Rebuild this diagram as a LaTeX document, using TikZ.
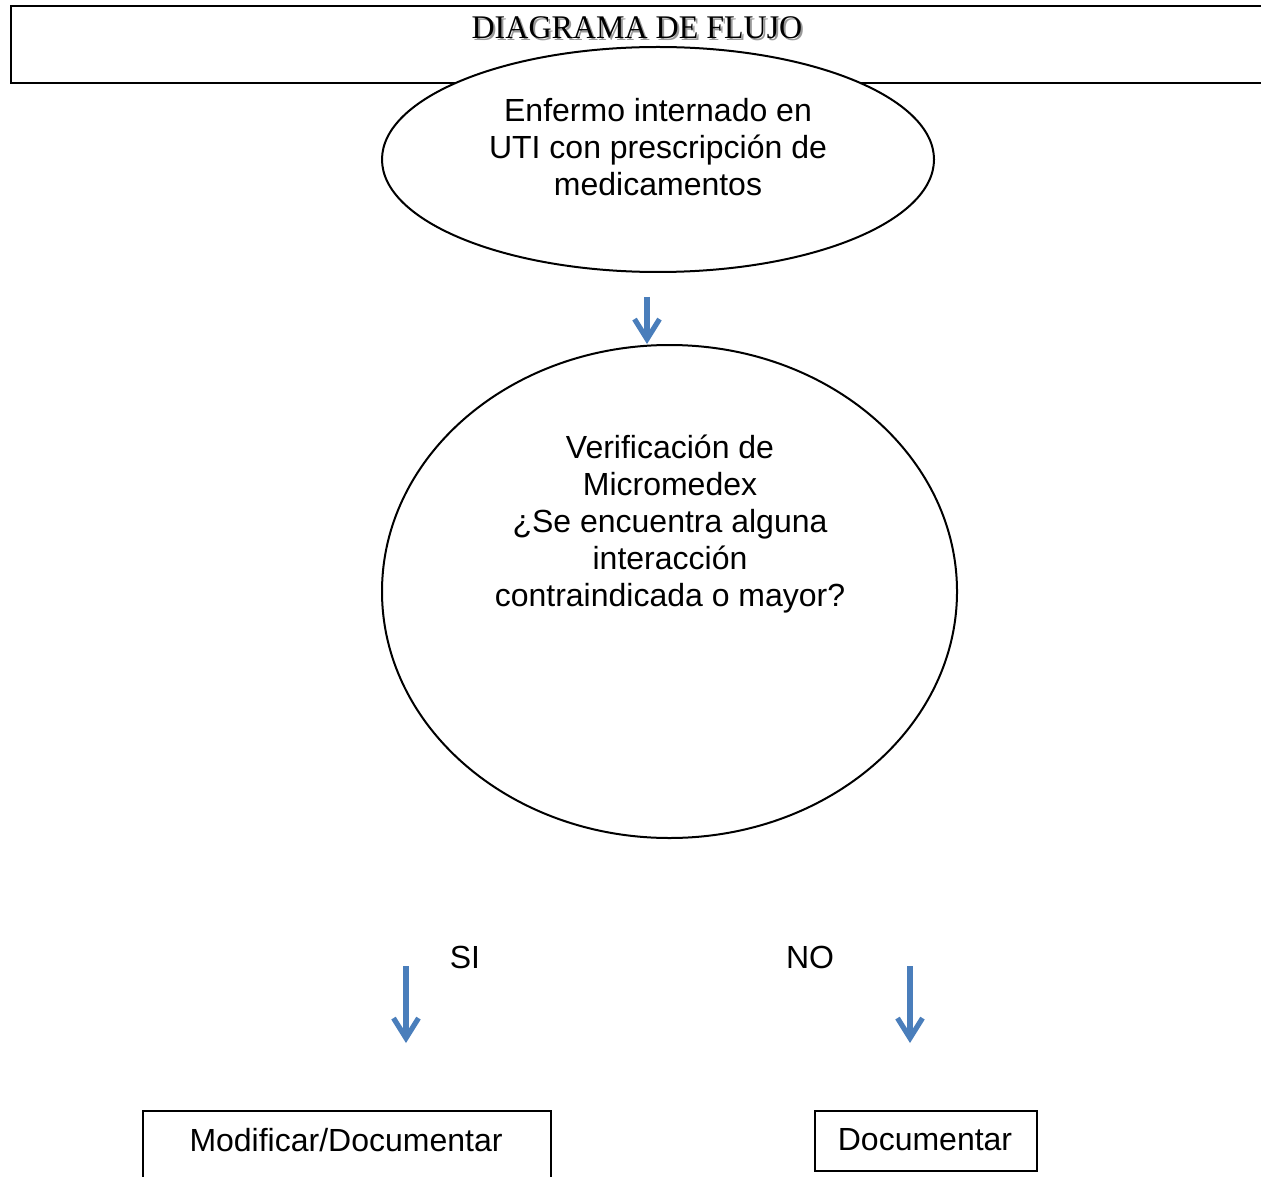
\documentclass[tikz,border=0pt]{standalone}
\usepackage{fontspec}
\setmainfont{Liberation Sans}
\newfontfamily\titlefont{Liberation Serif}
\usetikzlibrary{shapes.geometric,arrows.meta}
\definecolor{arrblue}{RGB}{74,126,187}
\tikzset{
  shape line/.style={draw=black,line width=1pt,fill=white},
  txt/.style={font=\fontsize{16}{18.5}\selectfont,align=center,inner sep=0pt},
  titletxt/.style={font=\titlefont\fontsize{16.5}{18}\selectfont,inner sep=0pt,xscale=0.97},
  bluearrow/.style={draw=arrblue,line width=2.6pt,-{Straight Barb[length=10pt,width=12.5pt,line join=miter]}},
}
\begin{document}
\begin{tikzpicture}[x=0.5pt,y=-0.5pt]
\useasboundingbox (0,0) rectangle (1261,1176);
% title box
\node[draw=black,line width=1pt,minimum width=1280*0.5pt,minimum height=77*0.5pt,anchor=north west,inner sep=0pt] (titlebox) at (10,5) {};
\node[titletxt,text=black!40] (titleshadow) at (639,30) {DIAGRAMA DE FLUJO};
\node[titletxt] (title) at (637,28) {DIAGRAMA DE FLUJO};
% ellipse 1
\node[ellipse,shape line,minimum width=552*0.5pt,minimum height=225*0.5pt,inner sep=0pt] (e1) at (658,159.5) {};
\node[txt] (t1) at (658,147) {Enfermo internado en\\UTI con prescripción de\\medicamentos};
% ellipse 2
\node[ellipse,shape line,minimum width=575*0.5pt,minimum height=493*0.5pt,inner sep=0pt] (e2) at (669.5,591.5) {};
\node[txt] (t2) at (670,524) {Verificación de\\Micromedex\\¿Se encuentra alguna\\interacción\\contraindicada o mayor?};
% arrow 1
\coordinate (a1s) at (647,297);
\coordinate (a1e) at (647,344);
\draw[bluearrow] (a1s) -- (a1e);
% labels
\node[txt] (si) at (465,957) {SI};
\node[txt] (no) at (810,957) {NO};
% arrows 2 and 3
\coordinate (a2s) at (406,966);
\coordinate (a2e) at (406,1043);
\draw[bluearrow] (a2s) -- (a2e);
\coordinate (a3s) at (910,966);
\coordinate (a3e) at (910,1043);
\draw[bluearrow] (a3s) -- (a3e);
% boxes
\node[draw=black,line width=1pt,minimum width=408*0.5pt,minimum height=100*0.5pt,anchor=north west,inner sep=0pt] (b1) at (142,1110) {};
\node[txt] (b1t) at (346,1140) {Modificar/Documentar};
\node[draw=black,line width=1pt,minimum width=222*0.5pt,minimum height=60*0.5pt,anchor=north west,inner sep=0pt] (b2) at (814,1110) {};
\node[txt] (b2t) at (925,1140) {Documentar};
\end{tikzpicture}
\end{document}
